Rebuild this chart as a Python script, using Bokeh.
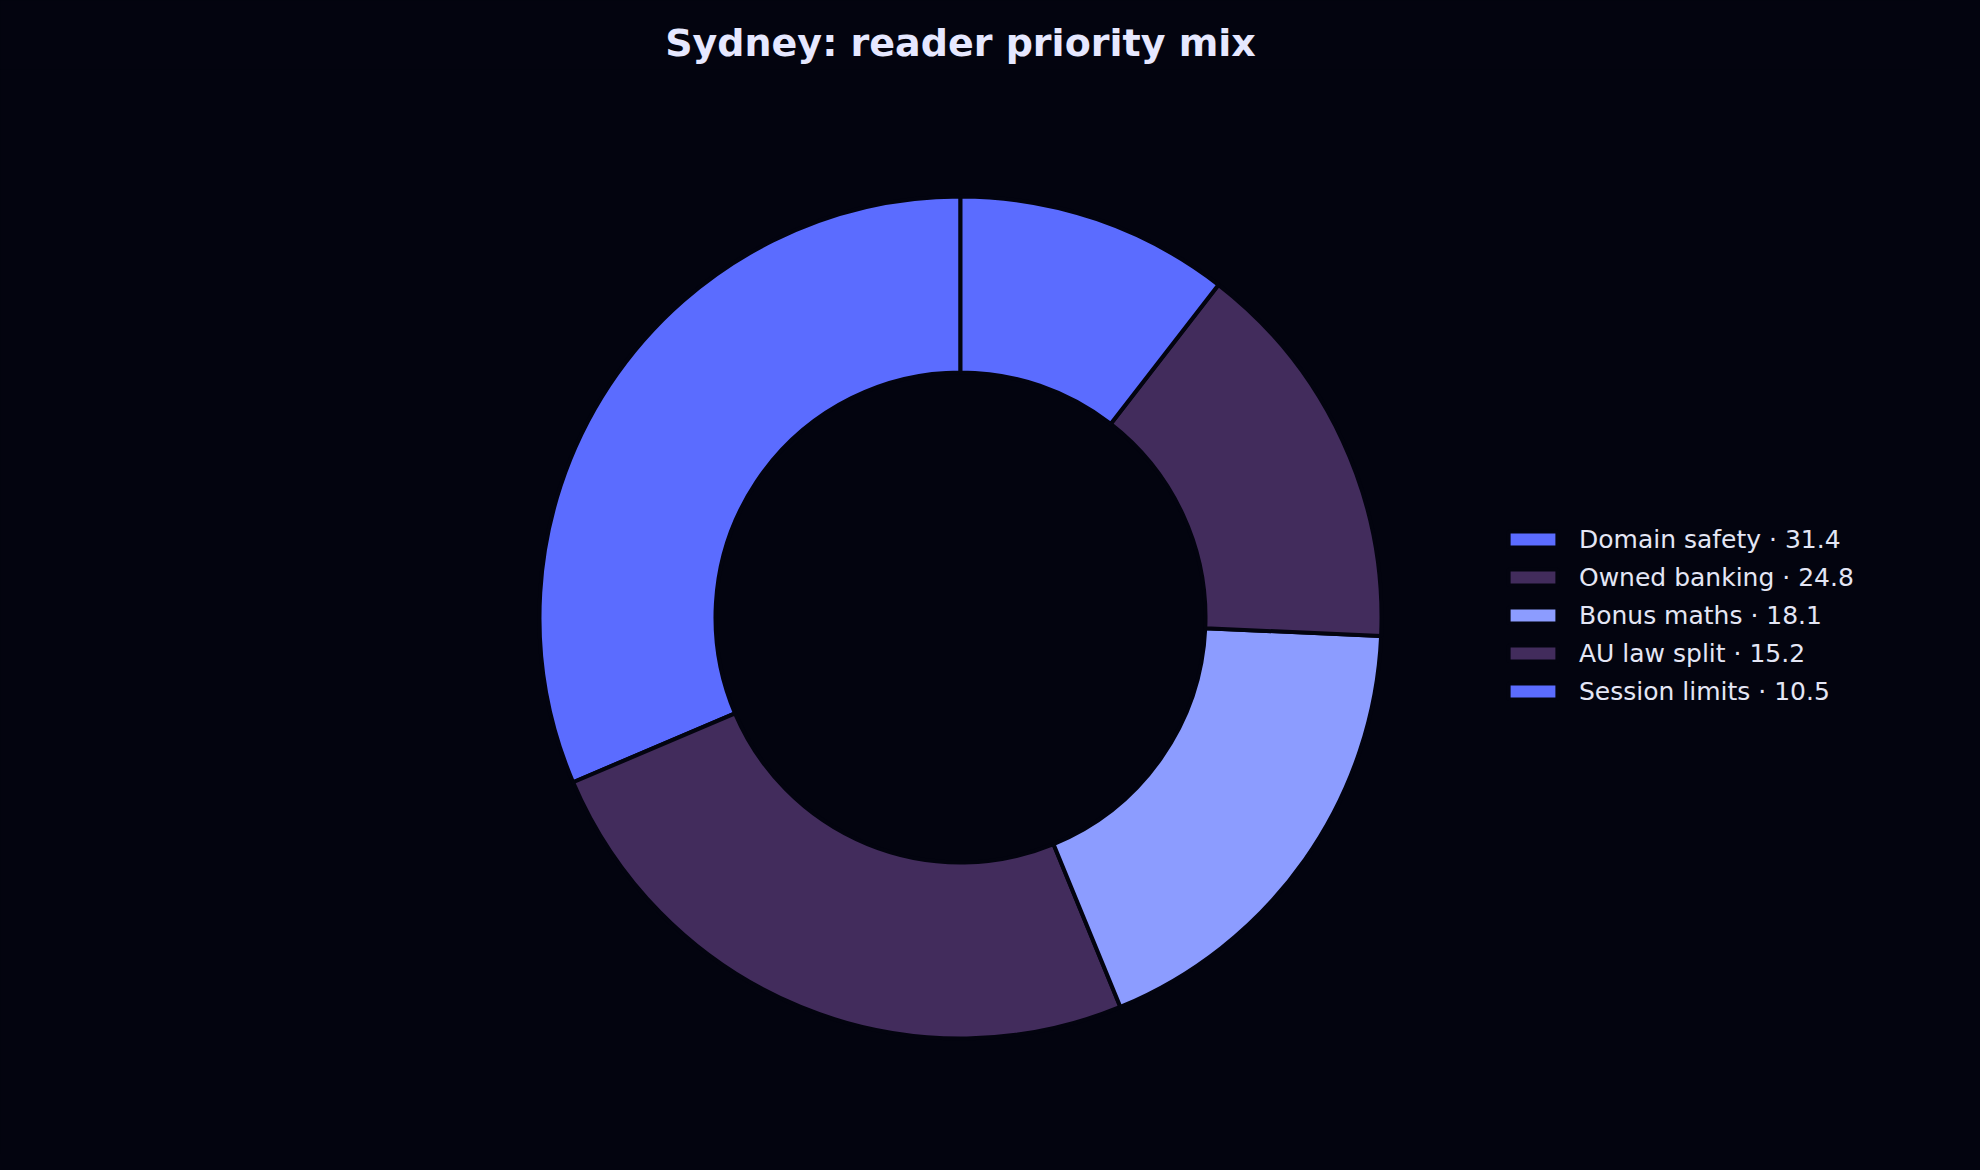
import numpy as np
from bokeh.plotting import figure
from bokeh.models import ColumnDataSource, Range1d
from bokeh.embed import file_html
from bokeh.resources import INLINE

# ---- data ----
categories = ["Domain safety", "Owned banking", "Bonus maths", "AU law split", "Session limits"]
values = [31.4, 24.8, 18.1, 15.2, 10.5]
colors = ["#5b6cff", "#422c5c", "#8c9cff", "#422c5c", "#5b6cff"]

BG = "#03040f"
W, H = 1920, 1154
TOP = 69

vals = np.array(values, dtype=float)
frac = vals / vals.sum()
ends = np.cumsum(frac) * 2 * np.pi
starts = np.concatenate([[0.0], ends[:-1]])
source = ColumnDataSource(dict(
    start=np.pi / 2 + starts,
    end=np.pi / 2 + ends,
    color=colors,
    legend=[f"{c} · {v:.1f}" for c, v in zip(categories, values)],
))

frame_h = H - TOP
p = figure(frame_width=W, frame_height=frame_h, output_backend="svg", toolbar_location=None,
           x_range=Range1d(0, W), y_range=Range1d(0, frame_h),
           min_border=0, min_border_left=0, min_border_right=0, min_border_top=TOP, min_border_bottom=0,
           title="Sydney: reader priority mix")
p.background_fill_color = BG
p.border_fill_color = BG
p.outline_line_color = None
p.axis.visible = False
p.grid.visible = False

p.title.align = "center"
p.title.text_font = "DejaVu Sans"
p.title.text_font_size = "38px"
p.title.text_font_style = "bold"
p.title.text_color = "#e6e8ff"

cx, cy = 960, 537
p.annular_wedge(x=cx, y=cy, inner_radius=245, outer_radius=421,
                start_angle="start", end_angle="end", direction="anticlock",
                fill_color="color", line_color=BG, line_width=4,
                legend_field="legend", source=source)

lg = p.legend[0]
lg.location = (1502, 448)
lg.background_fill_alpha = 0
lg.border_line_color = None
lg.padding = 0
lg.margin = 0
lg.spacing = 8
lg.glyph_width = 61
lg.glyph_height = 20
lg.label_height = 30
lg.label_standoff = 16
lg.label_text_font = "DejaVu Sans"
lg.label_text_font_size = "25px"
lg.label_text_color = "#e4e6f5"
lg.label_text_baseline = "middle"

html = file_html(p, INLINE)
html = html.replace("<head>", "<head><style>html,body{background:%s;}</style>" % BG, 1)
open("out.html", "w").write(html)
